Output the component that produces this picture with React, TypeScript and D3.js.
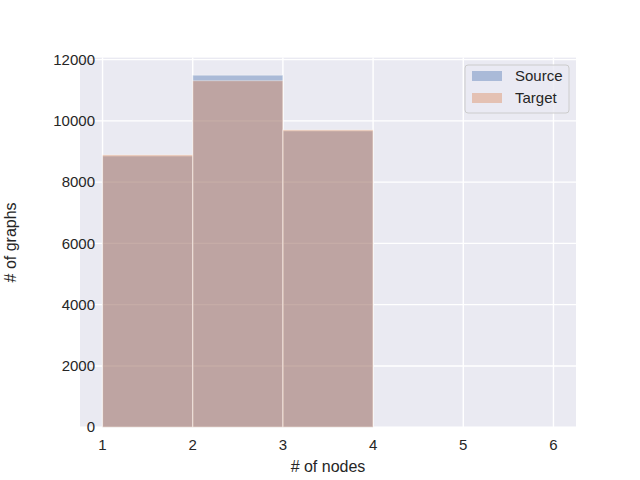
import React from "react";
import * as d3 from "d3";

const binEdges = [1, 2, 3, 4, 5, 6];
const sourceCounts = [8850, 11490, 9670, 0, 0];
const targetCounts = [8890, 11310, 9705, 0, 0];
const seriesNames = ["Source", "Target"];
const seriesColors = ["#4C72B0", "#DD8452"];
const xTicks = [1, 2, 3, 4, 5, 6];
const yTicks = [0, 2000, 4000, 6000, 8000, 10000, 12000];

const W = 640, H = 480;
const L = 80, R = 576, T = 57.6, B = 427.2;
const FONT = "'Liberation Sans', Arial, 'DejaVu Sans', sans-serif";

export default function App() {
  const x = d3.scaleLinear().domain([0.75, 6.25]).range([L, R]);
  const ymax = d3.max([...sourceCounts, ...targetCounts]) as number;
  const y = d3.scaleLinear().domain([0, ymax * 1.05]).range([B, T]);
  const series = [sourceCounts, targetCounts];

  return (
    <svg width={W} height={H} style={{ position: "absolute", left: 0, top: 0 }} fontFamily={FONT}>
      <rect x={0} y={0} width={W} height={H} fill="#ffffff" />
      <rect x={L} y={T} width={R - L} height={B - T} fill="#EAEAF2" />
      {xTicks.map((t) => (
        <line key={"gx" + t} x1={x(t)} x2={x(t)} y1={T} y2={B} stroke="#ffffff" strokeWidth={1.4} />
      ))}
      {yTicks.map((t) => (
        <line key={"gy" + t} x1={L} x2={R} y1={y(t)} y2={y(t)} stroke="#ffffff" strokeWidth={1.4} />
      ))}
      {series.map((counts, si) =>
        counts.map((c, i) =>
          c > 0 ? (
            <g key={si + "-" + i}>
              <rect
                x={x(binEdges[i])}
                y={y(c)}
                width={x(binEdges[i + 1]) - x(binEdges[i])}
                height={B - y(c)}
                fill={seriesColors[si]}
                fillOpacity={0.4}
              />
              <rect
                x={x(binEdges[i])}
                y={y(c)}
                width={x(binEdges[i + 1]) - x(binEdges[i])}
                height={B - y(c)}
                fill="none"
                stroke="#ffffff"
                strokeOpacity={0.4}
                strokeWidth={1}
              />
            </g>
          ) : null
        )
      )}
      {xTicks.map((t) => (
        <text key={"tx" + t} x={x(t)} y={450} fontSize={15} textAnchor="middle" fill="#262626">
          {t}
        </text>
      ))}
      {yTicks.map((t) => (
        <text key={"ty" + t} x={95} y={y(t)} dy="0.35em" fontSize={15} textAnchor="end" fill="#262626">
          {t}
        </text>
      ))}
      <text x={(L + R) / 2} y={472} fontSize={16} textAnchor="middle" fill="#262626">
        # of nodes
      </text>
      <text
        transform={`translate(16,${(T + B) / 2}) rotate(-90)`}
        fontSize={16}
        textAnchor="middle"
        fill="#262626"
      >
        # of graphs
      </text>
      <g>
        <rect x={465} y={65} width={104} height={48} rx={3} fill="#EAEAF2" fillOpacity={0.8} stroke="#cccccc" strokeWidth={1} />
        {seriesNames.map((n, i) => (
          <g key={n}>
            <rect x={472} y={71 + i * 22} width={30} height={10} fill={seriesColors[i]} fillOpacity={0.4} />
            <text x={515} y={76 + i * 22} dy="0.35em" fontSize={15} fill="#262626">
              {n}
            </text>
          </g>
        ))}
      </g>
    </svg>
  );
}
